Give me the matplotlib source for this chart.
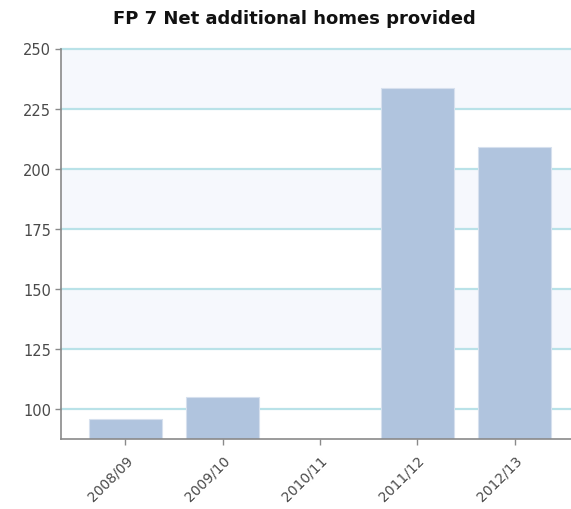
import matplotlib
matplotlib.use("Agg")
import matplotlib.pyplot as plt
import numpy as np

# data
years = ["2008/09", "2009/10", "2010/11", "2011/12", "2012/13"]
homes = [96, 105, np.nan, 233.5, 209]
y_ticks = [100, 125, 150, 175, 200, 225, 250]

fig = plt.figure(figsize=(5.71, 5.10), dpi=100)
ax = fig.add_axes([61 / 571, 70 / 510, 1 - 61 / 571, (440 - 49.5) / 510])

# alternating bands
for lo in range(225, 87, -50):
    ax.axhspan(lo, lo + 25, color="#f6f8fd", zorder=0, lw=0)
for t in y_ticks:
    ax.axhline(t, color="#b9e2e8", lw=1.6, zorder=1, clip_on=False)

x = np.arange(len(years))
ax.bar(x, homes, width=0.75, color="#b0c4de", edgecolor="#d6e0ee", linewidth=0.8, zorder=2)

ax.set_xlim(-0.66, 4.58)
ax.set_ylim(87.5, 250)
ax.set_yticks(y_ticks)
ax.set_xticks(x)
ax.set_xticklabels(years, rotation=45, ha="right", rotation_mode="anchor")

for s in ["top", "right"]:
    ax.spines[s].set_visible(False)
for s in ["left", "bottom"]:
    ax.spines[s].set_color("#8a8a8a")
    ax.spines[s].set_linewidth(1.2)
ax.tick_params(colors="#8a8a8a", length=4, width=1)
ax.tick_params(axis="y", labelcolor="#4a4a4a", labelsize=10.5, pad=3)
ax.tick_params(axis="x", labelcolor="#4a4a4a", labelsize=10, pad=6)

fig.text(0.515, 0.963, "FP 7 Net additional homes provided", ha="center", va="center",
         fontsize=13, fontweight="bold", color="#111111")

fig.savefig("out.png", dpi=100)
